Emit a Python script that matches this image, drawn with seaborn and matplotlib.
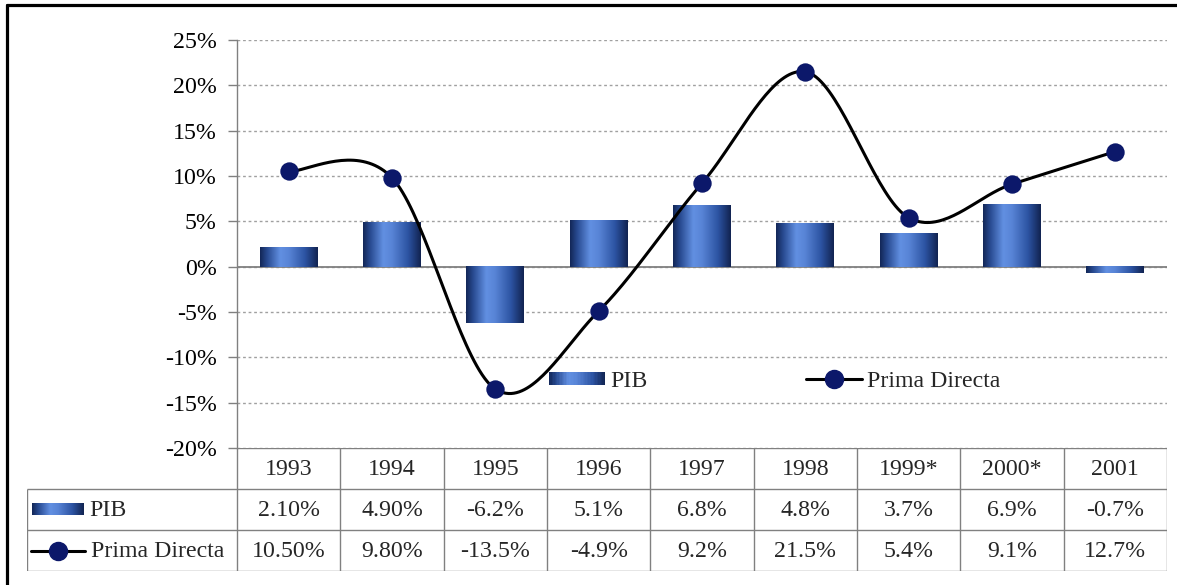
import numpy as np
import pandas as pd
import matplotlib
matplotlib.use("Agg")
import matplotlib.pyplot as plt
import seaborn as sns
from matplotlib.colors import LinearSegmentedColormap
from matplotlib.legend_handler import HandlerBase
from matplotlib.patches import Rectangle
from matplotlib.lines import Line2D

# ---- data -------------------------------------------------------------
years = ["1993", "1994", "1995", "1996", "1997", "1998", "1999*", "2000*", "2001"]
pib = [2.1, 4.9, -6.2, 5.1, 6.8, 4.8, 3.7, 6.9, -0.7]
prima = [10.5, 9.8, -13.5, -4.9, 9.2, 21.5, 5.4, 9.1, 12.7]
decimals = [2, 2, 1, 1, 1, 1, 1, 1, 1]          # digits shown in the data table
series_names = ["PIB", "Prima Directa"]
y_ticks = [-20, -15, -10, -5, 0, 5, 10, 15, 20, 25]

# ---- style ------------------------------------------------------------
sns.set_style("white")
plt.rcParams["font.family"] = ["Liberation Serif", "DejaVu Serif"]
FS = 17.2
GRID = "#808080"
MARKER = "#0c186a"

cyl = LinearSegmentedColormap.from_list(
    "cyl",
    [(0.0, "#122656"), (0.12, "#27498f"), (0.35, "#6290e2"),
     (0.5, "#5884d6"), (0.78, "#2c53a2"), (1.0, "#112350")])
grad = np.linspace(0, 1, 256).reshape(1, -1)

W, H = 1177, 585
fig = plt.figure(figsize=(W / 100, H / 100), dpi=100)
ax = fig.add_axes([237 / W, 1 - 448 / H, 930 / W, 408 / H])

df = pd.DataFrame({"year": years, "pib": pib, "prima": prima})
sns.barplot(data=df, x="year", y="pib", width=0.56, color="#2f58a8", ax=ax)

# cylinder-like shading on each bar
for bar in list(ax.patches):
    x0, w = bar.get_x(), bar.get_width()
    y0, h = bar.get_y(), bar.get_height()
    ax.imshow(grad, cmap=cyl, extent=[x0, x0 + w, min(y0, y0 + h), max(y0, y0 + h)],
              aspect="auto", interpolation="bicubic", zorder=2)
    bar.set_visible(False)


def smooth_path(xs, ys, n=40):
    """Cubic Bezier smoothing through every point (Catmull-Rom style)."""
    P = np.column_stack([xs, ys]).astype(float)
    ext = np.vstack([P[0], P, P[-1]])
    t = np.linspace(0, 1, n)[:, None]
    out = []
    for i in range(len(P) - 1):
        p0, p3 = ext[i + 1], ext[i + 2]
        c1 = p0 + (ext[i + 2] - ext[i]) / 6
        c2 = p3 - (ext[i + 3] - ext[i + 1]) / 6
        seg = ((1 - t) ** 3) * p0 + 3 * ((1 - t) ** 2) * t * c1 \
            + 3 * (1 - t) * t ** 2 * c2 + t ** 3 * p3
        out.append(seg if i == 0 else seg[1:])
    return np.vstack(out)


xs = np.arange(len(years))
curve = smooth_path(xs, prima)
ax.plot(curve[:, 0], curve[:, 1], color="black", lw=2.2, zorder=3)
sns.scatterplot(x=xs, y=prima, ax=ax, s=175, color=MARKER, edgecolor=MARKER,
                linewidth=0, zorder=4, legend=False)

ax.set_xlim(-0.5, len(years) - 0.5)
ax.set_ylim(-20, 25)
ax.set_yticks(y_ticks)
ax.set_yticklabels([f"{t}%" for t in y_ticks])
ax.set_xticks([])
ax.set_xlabel("")
ax.set_ylabel("")
ax.yaxis.grid(True, linestyle=(0, (2, 2)), color="#a0a0a0", lw=1)
ax.set_axisbelow(True)
ax.axhline(0, color=GRID, lw=1.3, zorder=1.5)
for s in ("top", "right", "bottom"):
    ax.spines[s].set_visible(False)
ax.spines["left"].set_color(GRID)
ax.spines["left"].set_linewidth(1)
ax.tick_params(axis="y", left=True, length=6.5, width=1, color=GRID,
               direction="out", pad=8, labelsize=FS, labelcolor="black")


class GradientHandler(HandlerBase):
    def create_artists(self, legend, orig_handle, xdescent, ydescent,
                       width, height, fontsize, trans):
        n = 40
        hh = height * 0.75
        y0 = -ydescent + (height - hh) / 2
        arts = []
        for k in range(n):
            arts.append(Rectangle((-xdescent + width * k / n, y0), width / n * 1.08, hh,
                                  facecolor=cyl((k + 0.5) / n), edgecolor="none",
                                  transform=trans))
        return arts


bar_proxy = Rectangle((0, 0), 1, 1)
line_proxy = Line2D([], [], color="black", lw=2.2, marker="o", markersize=13,
                    markerfacecolor=MARKER, markeredgecolor=MARKER)
ax.legend([bar_proxy, line_proxy], series_names,
          handler_map={Rectangle: GradientHandler()},
          loc="center left", bbox_to_anchor=(549 / W, 1 - 381 / H),
          bbox_transform=fig.transFigure, ncol=2, frameon=False,
          fontsize=FS, handlelength=2.35, handletextpad=0.2,
          columnspacing=6.65, borderpad=0, borderaxespad=0)

# ---- data table under the plot ----------------------------------------
unit = 930 / len(years)
tx0 = 27
tab = fig.add_axes([tx0 / W, 1 - 571 / H, (1167 - tx0) / W, (571 - 448) / H])
xleft = -0.5 - (237 - tx0) / unit
tab.set_xlim(xleft, len(years) - 0.5)
tab.set_ylim(3, 0)
tab.axis("off")

def px(p):
    return -0.5 + (p - 237) / unit

lk = dict(color=GRID, lw=1, solid_capstyle="butt")
tab.plot([-0.5, len(years) - 0.5], [0, 0], **lk)
for r in (1, 2, 3):
    tab.plot([xleft, len(years) - 0.5], [r, r], **lk)
for k in range(len(years) + 1):
    tab.plot([k - 0.5, k - 0.5], [0, 3], **lk)
tab.plot([xleft, xleft], [1, 3], **lk)

for i, yr in enumerate(years):
    tab.text(i, 0.52, yr, ha="center", va="center", fontsize=FS)
    tab.text(i, 1.52, f"{pib[i]:.{decimals[i]}f}%", ha="center", va="center", fontsize=FS)
    tab.text(i, 2.52, f"{prima[i]:.{decimals[i]}f}%", ha="center", va="center", fontsize=FS)

# row labels with their series keys
tab.imshow(grad, cmap=cyl, extent=[px(32), px(84), 1.36, 1.64], aspect="auto",
           interpolation="bicubic")
tab.text(px(89), 1.52, series_names[0], ha="left", va="center", fontsize=FS)
tab.plot([px(31), px(85)], [2.52, 2.52], color="black", lw=2.2)
tab.plot([px(58)], [2.52], marker="o", markersize=13, color=MARKER)
tab.text(px(91), 2.52, series_names[1], ha="left", va="center", fontsize=FS)
tab.set_xlim(xleft, len(years) - 0.5)
tab.set_ylim(3, 0)

# outer frame (left and top edges)
fig.add_artist(Line2D([6.5 / W, 6.5 / W], [0, 1 - 5 / H], color="black", lw=2.3,
                      transform=fig.transFigure))
fig.add_artist(Line2D([6.5 / W, 1], [1 - 5 / H, 1 - 5 / H], color="black", lw=2.3,
                      transform=fig.transFigure))

fig.savefig("out.png", dpi=100)
